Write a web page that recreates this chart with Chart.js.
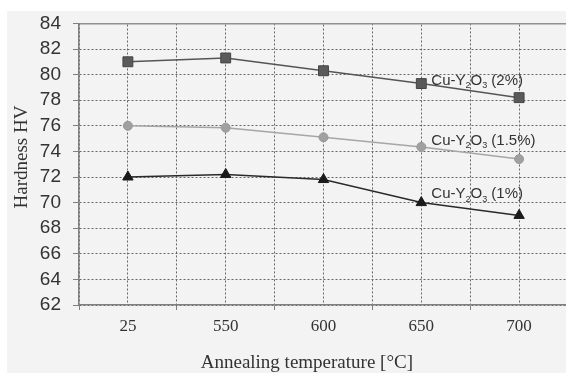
<!DOCTYPE html>
<html>
<head>
<meta charset="utf-8">
<script src="https://cdn.jsdelivr.net/npm/chart.js@4/dist/chart.umd.min.js"></script>
<style>
  html, body { margin: 0; padding: 0; background: #ffffff; overflow: hidden; }
  #wrap { width: 568px; height: 373px; position: relative; }
</style>
</head>
<body>
<div id="wrap"><canvas id="c"></canvas></div>
<script>
// ---- data ----
const categories = ['25', '550', '600', '650', '700'];
const hv2 = [81.0, 81.3, 80.3, 79.3, 78.2];     // Cu-Y2O3 (2%)
const hv15 = [76.0, 75.85, 75.1, 74.35, 73.4];  // Cu-Y2O3 (1.5%)
const hv1 = [72.0, 72.2, 71.8, 70.0, 69.0];     // Cu-Y2O3 (1%)
const seriesNames = ['Cu-Y2O3 (2%)', 'Cu-Y2O3 (1.5%)', 'Cu-Y2O3 (1%)'];
const labelPercents = ['2%', '1.5%', '1%'];
const labelValues = [79.5, 74.85, 70.65];   // value level where inline labels sit
const labelCategoryIndex = 3;
const yMin = 62, yMax = 84, yStep = 2;

const bgPlugin = {
  id: 'bg',
  beforeDraw(chart) {
    const ctx = chart.ctx;
    ctx.save();
    ctx.fillStyle = '#f3f3f3';
    ctx.fillRect(7, 11, chart.width - 7, chart.height - 11);
    ctx.restore();
  }
};

const labelPlugin = {
  id: 'inlineLabels',
  afterDatasetsDraw(chart) {
    const ctx = chart.ctx;
    const xs = chart.scales.x, ys = chart.scales.y;
    ctx.save();
    ctx.fillStyle = '#333333';
    ctx.textBaseline = 'middle';
    ctx.textAlign = 'left';
    const big = '15px "Liberation Sans", Arial, sans-serif';
    const small = '9px "Liberation Sans", Arial, sans-serif';
    labelPercents.forEach((p, i) => {
      let x = xs.getPixelForValue(labelCategoryIndex) + 10;
      const y = ys.getPixelForValue(labelValues[i]);
      const parts = [['Cu-Y', big, 0], ['2', small, 5], ['O', big, 0], ['3', small, 5], [' (' + p + ')', big, 0]];
      parts.forEach(([t, f, dy]) => {
        ctx.font = f;
        ctx.fillText(t, x, y + dy);
        x += ctx.measureText(t).width;
      });
    });
    ctx.restore();
  }
};

new Chart(document.getElementById('c'), {
  type: 'line',
  data: {
    labels: categories,
    datasets: [
      { label: seriesNames[0], data: hv2, borderColor: '#555555', backgroundColor: '#5a5a5a',
        pointBorderColor: '#444444', pointStyle: 'rect', pointRadius: 7, borderWidth: 1.5, pointBorderWidth: 1, tension: 0 },
      { label: seriesNames[1], data: hv15, borderColor: '#a6a6a6', backgroundColor: '#a0a0a0',
        pointBorderColor: '#9a9a9a', pointStyle: 'circle', pointRadius: 4.5, borderWidth: 1.5, pointBorderWidth: 1, tension: 0 },
      { label: seriesNames[2], data: hv1, borderColor: '#2a2a2a', backgroundColor: '#1a1a1a',
        pointBorderColor: '#1a1a1a', pointStyle: 'triangle', pointRadius: 6, borderWidth: 1.5, pointBorderWidth: 1, tension: 0 }
    ]
  },
  options: {
    responsive: true,
    maintainAspectRatio: false,
    animation: false,
    devicePixelRatio: 1,
    layout: { autoPadding: false, padding: { left: 0, top: 23, right: 0, bottom: 0 } },
    plugins: { legend: { display: false }, tooltip: { enabled: false } },
    scales: {
      x: {
        type: 'category',
        position: 'bottom',
        offset: true,
        grid: { offset: true, color: '#666666', lineWidth: 1, drawTicks: true,
                tickLength: 5, tickColor: '#808080', tickBorderDash: [], tickWidth: 1 },
        border: { display: true, color: '#808080', width: 1.5, dash: [2, 2] },
        ticks: { color: '#333333', padding: 6, autoSkip: false, maxRotation: 0,
                 font: { family: '"Liberation Serif", "Times New Roman", serif', size: 17 } },
        title: { display: true, text: 'Annealing temperature [°C]       ', color: '#333333',
                 padding: { top: 0, bottom: -1 }, font: { family: '"Liberation Serif", "Times New Roman", serif', size: 19 } },
        afterFit(s) { s.height = 68; s.paddingLeft = 0; s.paddingRight = 0; }
      },
      x2: {
        type: 'category',
        position: 'top',
        offset: true,
        grid: { offset: false, color: '#666666', lineWidth: 1, drawTicks: false },
        border: { display: true, color: '#909090', width: 1.5, dash: [2, 2] },
        ticks: { display: false },
        afterFit(s) { s.height = 0; s.paddingLeft = 0; s.paddingRight = 0; }
      },
      y: {
        min: yMin, max: yMax,
        grid: { color: '#666666', lineWidth: 1, drawTicks: true,
                tickLength: 6, tickColor: '#808080', tickBorderDash: [], tickWidth: 1 },
        border: { display: true, color: '#808080', width: 1.5, dash: [2, 2] },
        ticks: { stepSize: yStep, color: '#333333', padding: 12, autoSkip: false,
                 font: { family: '"Liberation Sans", Arial, sans-serif', size: 19 } },
        title: { display: true, text: '   Hardness HV', color: '#333333',
                 padding: { top: 10.5, bottom: 0 }, font: { family: '"Liberation Serif", "Times New Roman", serif', size: 19 } },
        afterFit(s) { s.width = 79; }
      }
    }
  },
  plugins: [bgPlugin, labelPlugin]
});
</script>
</body>
</html>
